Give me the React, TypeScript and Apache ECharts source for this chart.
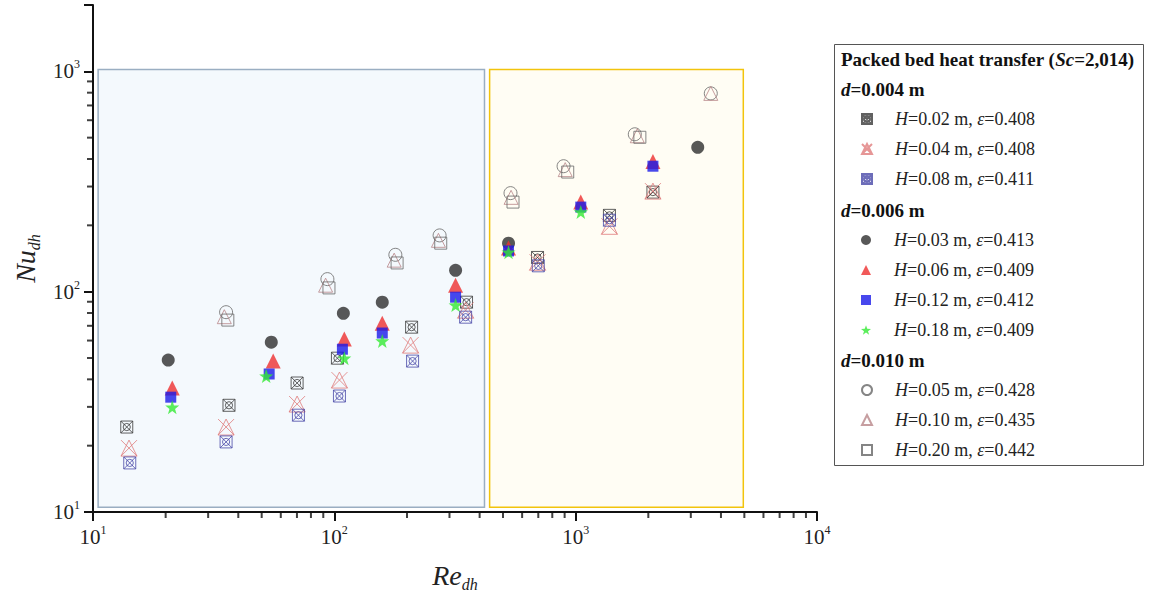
import React, { useEffect, useRef } from 'react';
import * as echarts from 'echarts';

const FONT = '"Liberation Serif", "Times New Roman", serif';

// ---- data: Re_dh (x) and Nu_dh (y) per series ----
// d = 0.004 m
const reH002 = [13.8, 36.6, 70.1, 103, 209, 353, 695, 1380, 2090];
const nuH002 = [24.3, 30.5, 38.5, 49.9, 69.0, 89.6, 143, 222, 283];
const reH004 = [14.1, 35.6, 70.1, 105, 207, 350, 695, 1380, 2090];
const nuH004 = [19.5, 24.3, 30.9, 39.7, 57.2, 82.4, 136, 198, 286];
const reH008 = [14.2, 35.6, 71, 105, 211, 350, 700, 1380];
const nuH008 = [16.7, 20.8, 27.5, 33.6, 48.4, 76.6, 131, 211];
// d = 0.006 m
const reH003 = [20.5, 54.8, 109, 158, 318, 527, 3205];
const nuH003 = [48.9, 59.0, 79.8, 89.6, 125, 166, 452];
const reH006 = [21.3, 55.8, 110, 158, 318, 527, 1050, 2090];
const nuH006 = [36.5, 48.4, 60.9, 71.9, 107, 158, 255, 390];
const reH012 = [21, 53.7, 108, 158, 318, 527, 1050, 2090];
const nuH012 = [33.2, 42.3, 54.8, 64.9, 94.4, 153, 242, 371];
const reH018 = [21.3, 52.2, 110, 158, 318, 527, 1050];
const nuH018 = [29.9, 41.4, 49.9, 59.7, 86.9, 151, 230];
// d = 0.010 m
const reH005 = [35.6, 93.6, 179, 273, 537, 891, 1758, 3630];
const nuH005 = [80.7, 114, 147, 180, 280, 371, 518, 794];
const reH010 = [35, 92, 177, 270, 540, 905, 1800, 3630];
const nuH010 = [77, 107, 139, 171, 268, 358, 510, 794];
const reH020 = [36.2, 95, 182, 276, 550, 927, 1845];
const nuH020 = [74.3, 104, 135, 166, 255, 349, 502];

const seriesNames = [
  'H=0.02 m, ε=0.408',
  'H=0.04 m, ε=0.408',
  'H=0.08 m, ε=0.411',
  'H=0.03 m, ε=0.413',
  'H=0.06 m, ε=0.409',
  'H=0.12 m, ε=0.412',
  'H=0.18 m, ε=0.409',
  'H=0.05 m, ε=0.428',
  'H=0.10 m, ε=0.435',
  'H=0.20 m, ε=0.442',
];
const groupHeaders = ['0.004', '0.006', '0.010'];

// flow regimes (shaded boxes): [Re_min, Re_max], [Nu_min, Nu_max]
const regionLeftRe = [10.5, 419];
const regionRightRe = [440, 4950];
const regionNu = [10.5, 1020];

// axis minor ticks
const xMinorTicks = [20, 30, 40, 50, 60, 70, 80, 90, 200, 300, 400, 500, 600, 700, 800, 900, 2000, 3000, 4000, 5000, 6000, 7000, 8000, 9000];
const yMinorTicks = [20, 30, 40, 50, 60, 70, 80, 90, 200, 300, 400, 500, 600, 700, 800, 900];
const X_MIN = 10, X_MAX = 10000, Y_MIN = 10, Y_MAX = 2000;

const zip = (a: number[], b: number[]) => a.map((v, i) => [v, b[i]]);

const SYM_CROSS_SQ = 'path://M0,0H20V20H0Z M0,0L20,20 M20,0L0,20 M16,10A6,6 0 1 1 4,10A6,6 0 1 1 16,10';
const SYM_X_TRI = 'path://M10,0L20,20H0Z M0,0L20,20 M20,0L0,20';
const SYM_STAR = 'path://M10,0L12.35,6.76L19.51,6.91L13.8,11.24L15.88,18.09L10,14L4.12,18.09L6.2,11.24L0.49,6.91L7.65,6.76Z';

const hollow = (c: string) => ({ color: 'rgba(0,0,0,0)', borderColor: c, borderWidth: 1 });
const solid = (c: string) => ({ color: c });

const styles: any[] = [
  { symbol: SYM_CROSS_SQ, size: 12, itemStyle: hollow('#3a3a3a') },
  { symbol: SYM_X_TRI, size: 16, itemStyle: hollow('#e07c7c') },
  { symbol: SYM_CROSS_SQ, size: 12, itemStyle: hollow('#4848a8') },
  { symbol: 'circle', size: 13, itemStyle: solid('#2e2e2e') },
  { symbol: 'triangle', size: 15, itemStyle: solid('#ee3030') },
  { symbol: 'rect', size: 11, itemStyle: solid('#1a1ae8') },
  { symbol: SYM_STAR, size: 14, itemStyle: solid('#33ea33') },
  { symbol: 'circle', size: 13, itemStyle: hollow('#666666') },
  { symbol: 'triangle', size: 14, itemStyle: hollow('#b88688') },
  { symbol: 'rect', size: 12, itemStyle: hollow('#666666') },
];
const seriesData = [
  zip(reH002, nuH002), zip(reH004, nuH004), zip(reH008, nuH008),
  zip(reH003, nuH003), zip(reH006, nuH006), zip(reH012, nuH012), zip(reH018, nuH018),
  zip(reH005, nuH005), zip(reH010, nuH010), zip(reH020, nuH020),
];

const isPow10 = (v: number) => {
  const l = Math.log10(v);
  return Math.abs(l - Math.round(l)) < 1e-6;
};

const legendText = {
  fontFamily: FONT,
  fontSize: 18,
  color: '#222',
  lineHeight: 20,
  padding: [0, 0, 0, 18],
  rich: {
    i: { fontFamily: FONT, fontSize: 18, fontStyle: 'italic', color: '#222', lineHeight: 20 },
  },
};
const legendFormatter = (name: string) => name.replace(/^H/, '{i|H}').replace('ε', '{i|ε}');

const makeLegend = (names: string[], top: number) => ({
  data: names,
  orient: 'vertical',
  left: 861,
  top,
  itemWidth: 10,
  itemHeight: 10,
  itemGap: 10,
  padding: 0,
  textStyle: legendText,
  formatter: legendFormatter,
});

// minor tick marks: thin rect symbols placed through the axes' scales
const tickSeries = (name: string, vals: number[], len: number, horizontal: boolean) => ({
  name,
  type: 'scatter',
  silent: true,
  clip: false,
  z: 20,
  data: vals.map((v) => (horizontal ? [v, Y_MIN] : [X_MIN, v])),
  symbol: 'rect',
  symbolSize: horizontal ? [2, len] : [len, 2],
  symbolOffset: horizontal ? [0, len / 2] : [-len / 2, 0],
  itemStyle: { color: '#111' },
});

export default function App() {
  const ref = useRef<HTMLDivElement>(null);
  useEffect(() => {
    if (!ref.current) return;
    const chart = echarts.init(ref.current, undefined, { renderer: 'svg' });

    const scatterSeries = seriesNames.map((name, i) => ({
      name,
      type: 'scatter',
      data: seriesData[i],
      symbol: styles[i].symbol,
      symbolSize: styles[i].size,
      itemStyle: styles[i].itemStyle,
      z: 3 + i,
    }));

    const axisLabelRich = {
      sup: { fontFamily: FONT, fontSize: 12, color: '#222', lineHeight: 12, verticalAlign: 'top' },
    };
    const labelFmt = (v: number) => (isPow10(v) ? `10{sup|${Math.round(Math.log10(v))}}` : '');

    const titleRich = {
      b: { fontFamily: FONT, fontSize: 19, fontWeight: 'bold', fill: '#111' },
      bi: { fontFamily: FONT, fontSize: 19, fontWeight: 'bold', fontStyle: 'italic', fill: '#111' },
    };

    const nameRich = {
      i: { fontFamily: FONT, fontSize: 28, fontStyle: 'italic', color: '#222', lineHeight: 34 },
      s: { fontFamily: FONT, fontSize: 16, fontStyle: 'italic', color: '#222', lineHeight: 16, verticalAlign: 'bottom' },
    };

    const majorTick = { show: true, inside: false, length: 9, lineStyle: { color: '#111', width: 2 } };

    chart.setOption({
      animation: false,
      backgroundColor: '#fff',
      grid: { left: 93, right: 334, top: 5, bottom: 89 },
      xAxis: {
        type: 'log',
        logBase: 10,
        min: X_MIN,
        max: X_MAX,
        splitLine: { show: false },
        axisTick: majorTick,
        axisLine: { lineStyle: { color: '#111', width: 2 } },
        axisLabel: { formatter: labelFmt, rich: axisLabelRich, margin: 12, fontFamily: FONT, fontSize: 21, lineHeight: 26, color: '#222' },
        name: '{i|Re}{s|dh}',
        nameLocation: 'middle',
        nameGap: 46,
        nameTextStyle: { fontFamily: FONT, fontSize: 28, fontStyle: 'italic', color: '#222', rich: nameRich },
      },
      yAxis: {
        type: 'log',
        logBase: 10,
        min: Y_MIN,
        max: Y_MAX,
        splitLine: { show: false },
        axisTick: majorTick,
        axisLine: { lineStyle: { color: '#111', width: 2 } },
        axisLabel: { formatter: labelFmt, rich: axisLabelRich, margin: 13, fontFamily: FONT, fontSize: 21, lineHeight: 26, color: '#222' },
        name: '{i|Nu}{s|dh}',
        nameLocation: 'middle',
        nameGap: 48,
        nameTextStyle: { fontFamily: FONT, fontSize: 28, fontStyle: 'italic', color: '#222', rich: nameRich },
      },
      legend: [
        makeLegend(seriesNames.slice(0, 3), 109),
        makeLegend(seriesNames.slice(3, 7), 230),
        makeLegend(seriesNames.slice(7, 10), 380),
      ],
      graphic: [
        {
          type: 'rect',
          z: 0,
          shape: { x: 834.5, y: 44.5, width: 309, height: 421 },
          style: { fill: '#fff', stroke: '#555', lineWidth: 1 },
        },
        {
          type: 'text',
          z: 5,
          x: 841,
          y: 59,
          style: {
            text: '{b|Packed bed heat transfer (}{bi|Sc}{b|=2,014)}',
            rich: titleRich,
            verticalAlign: 'middle',
          },
        },
        ...groupHeaders.map((h, i) => ({
          type: 'text',
          z: 5,
          x: 841,
          y: [89, 210, 360][i],
          style: {
            text: `{bi|d}{b|=${h} m}`,
            rich: titleRich,
            verticalAlign: 'middle',
          },
        })),
      ],
      series: [
        {
          type: 'scatter',
          data: [],
          silent: true,
          z: 1,
          markArea: {
            silent: true,
            label: { show: false },
            data: [
              [
                { coord: [regionLeftRe[0], regionNu[0]], itemStyle: { color: '#f4f9fd', borderColor: '#9aaec2', borderWidth: 1.5 } },
                { coord: [regionLeftRe[1], regionNu[1]] },
              ],
              [
                { coord: [regionRightRe[0], regionNu[0]], itemStyle: { color: '#fffdf4', borderColor: '#f2c40c', borderWidth: 1.5 } },
                { coord: [regionRightRe[1], regionNu[1]] },
              ],
            ],
          },
        },
        ...scatterSeries,
        tickSeries('xMinor', xMinorTicks, 6, true),
        tickSeries('yMinor', yMinorTicks, 6, false),
      ],
    });
    return () => chart.dispose();
  }, []);
  return <div ref={ref} style={{ width: 1151, height: 601, position: 'absolute', left: 0, top: 0 }} />;
}
